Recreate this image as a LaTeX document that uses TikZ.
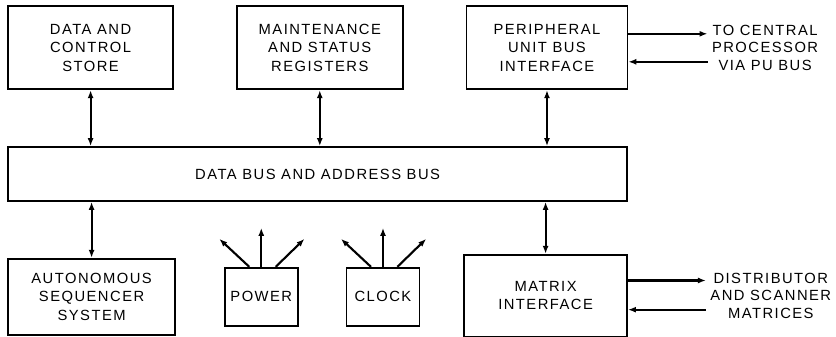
\documentclass[tikz,border=0pt]{standalone}
\usepackage{fontspec}
\setsansfont{Liberation Sans}[LetterSpace=10]
\usepackage{tikz}
\usetikzlibrary{arrows.meta,positioning}

\begin{document}
\begin{tikzpicture}[
    font=\sffamily\fontsize{10.5}{13}\selectfont,
    box/.style={draw, line width=1.2pt, align=center, inner sep=2pt},
    topbox/.style={box, minimum height=2.075cm},
    small/.style={box, minimum width=1.825cm, minimum height=1.45cm},
    lbl/.style={align=center, inner sep=3pt, font=\sffamily\fontsize{10.5}{12.5}\selectfont},
    arr/.style={-{Latex[length=2mm, width=1.5mm]}, line width=1.5pt},
    biarr/.style={{Latex[length=2mm, width=1.5mm]}-{Latex[length=2mm, width=1.5mm]}, line width=1.5pt}
  ]
  \useasboundingbox (0,0) rectangle (20.9,8.4);
  \node[box, minimum width=15.475cm, minimum height=1.35cm] (bus) at (7.94,4.05) {DATA BUS AND ADDRESS BUS};
  \node[topbox, minimum width=4.125cm, above=1.4cm of bus.north west, anchor=south west] (store) {DATA AND\\CONTROL\\STORE};
  \node[topbox, minimum width=4.15cm, right=1.55cm of store.south east, anchor=south west] (maint) {MAINTENANCE\\AND STATUS\\REGISTERS};
  \node[topbox, minimum width=4.025cm, right=1.55cm of maint.south east, anchor=south west] (pui) {PERIPHERAL\\UNIT BUS\\INTERFACE};
  \node[box, minimum width=4.175cm, minimum height=1.9cm, below=1.4cm of bus.south west, anchor=north west] (seq) {AUTONOMOUS\\SEQUENCER\\SYSTEM};
  \node[box, minimum width=4.075cm, minimum height=2.05cm, below=1.3cm of bus.south east, anchor=north east] (mtx) {MATRIX\\INTERFACE};
  \node[small, right=1.2cm of seq.east] (power) {POWER};
  \node[small, right=1.175cm of power] (clock) {CLOCK};
  \node[lbl, right=1.98cm of pui.east] (cpu) {TO CENTRAL\\PROCESSOR\\VIA PU BUS};
  \node[lbl, right=1.95cm of mtx.east] (dist) {DISTRIBUTOR\\AND SCANNER\\MATRICES};
  % bus connections
  \draw[biarr] (store.south) -- (store.south |- bus.north);
  \draw[biarr] (maint.south) -- (maint.south |- bus.north);
  \draw[biarr] (pui.south) -- (pui.south |- bus.north);
  \draw[biarr] (seq.north) -- (seq.north |- bus.south);
  \draw[biarr] (mtx.north) -- (mtx.north |- bus.south);
  % outputs of power and clock
  \foreach \src in {power, clock} {
    \coordinate (\src-l) at ([shift={(-1.05,0.7)}]\src.north);
    \coordinate (\src-m) at ([shift={(0,0.975)}]\src.north);
    \coordinate (\src-r) at ([shift={(1.08,0.7)}]\src.north);
    \draw[arr] ([xshift=-0.3cm]\src.north) -- (\src-l);
    \draw[arr] (\src.north) -- (\src-m);
    \draw[arr] ([xshift=0.36cm]\src.north) -- (\src-r);
  }
  % external links
  \draw[arr] ([yshift=0.35cm]pui.east) -- ([yshift=0.35cm]pui.east -| cpu.west);
  \draw[arr] ([yshift=-0.35cm]pui.east -| cpu.west) -- ([yshift=-0.35cm]pui.east);
  \draw[arr] ([yshift=0.38cm]mtx.east) -- ([yshift=0.38cm]mtx.east -| dist.west);
  \draw[arr] ([yshift=-0.35cm]mtx.east -| dist.west) -- ([yshift=-0.35cm]mtx.east);
\end{tikzpicture}
\end{document}
